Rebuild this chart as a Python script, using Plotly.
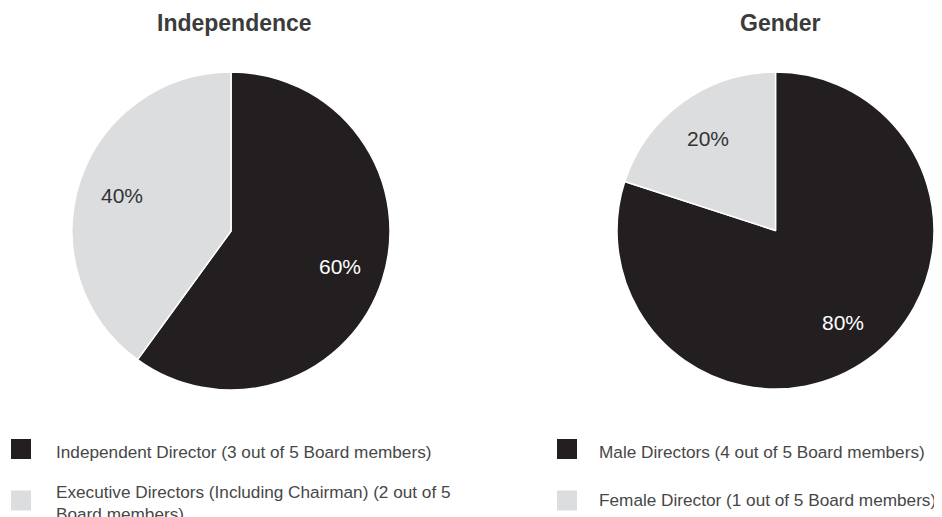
import math
import plotly.graph_objects as go

W, H = 942, 517
OFF = 8  # browser body margin
FW, FH = W - OFF, H - OFF

titles = ["Independence", "Gender"]
indep_labels = ["Independent Director (3 out of 5 Board members)",
                "Executive Directors (Including Chairman) (2 out of 5<br>Board members)"]
indep_values = [3, 2]
gender_labels = ["Male Directors (4 out of 5 Board members)",
                 "Female Director (1 out of 5 Board members)"]
gender_values = [4, 1]

colors = ["#231f20", "#dcdddf"]
text_colors = ["#ffffff", "#333333"]
FONT = "Liberation Sans, Arial, Helvetica, sans-serif"


def px_x(x):
    return (x - OFF) / FW


def px_y(y):
    return 1 - (y - OFF) / FH


fig = go.Figure()
annotations = []
shapes = []

# pie boxes in page pixels: (x0, x1, y0, y1)
pies = [
    (indep_labels, indep_values, (72, 390, 72, 390)),
    (gender_labels, gender_values, (617, 934, 72, 389)),
]
for labels, values, (x0, x1, y0, y1) in pies:
    fig.add_trace(go.Pie(
        labels=labels, values=values, sort=False, direction="clockwise", rotation=0,
        marker=dict(colors=colors, line=dict(color="white", width=1.5)),
        textinfo="none",
        hoverinfo="label+percent",
        domain=dict(x=[px_x(x0), px_x(x1)], y=[px_y(y1), px_y(y0)]),
        showlegend=False,
    ))
    # percent labels placed at each slice's mid-angle
    cx, cy, r = (x0 + x1) / 2, (y0 + y1) / 2, (x1 - x0) / 2
    total = sum(values)
    cum = 0
    for i, v in enumerate(values):
        mid = (cum + v / 2) / total * 2 * math.pi
        cum += v
        lx = cx + 0.72 * r * math.sin(mid)
        ly = cy - 0.72 * r * math.cos(mid)
        annotations.append(dict(text="%d%%" % round(100 * v / total), x=px_x(lx), y=px_y(ly),
                                xref="paper", yref="paper", showarrow=False,
                                xanchor="center", yanchor="middle",
                                font=dict(size=21, color=text_colors[i], family=FONT)))

# titles
for t, cx in zip(titles, [234, 780]):
    annotations.append(dict(text="<b>%s</b>" % t, x=px_x(cx), y=px_y(23), xref="paper", yref="paper",
                            showarrow=False, xanchor="center", yanchor="middle",
                            font=dict(size=23, color="#3b3b3b", family=FONT)))

# custom legends
legend_cols = [(indep_labels, 11, 54, [(449, 452), (500.5, 503)]),
               (gender_labels, 557, 597, [(449, 452), (500.5, 500)])]
for labels, sq_x, tx_x, ys in legend_cols:
    for i, (lab, (sq_c, tx_c)) in enumerate(zip(labels, ys)):
        shapes.append(dict(type="rect", xref="paper", yref="paper",
                           x0=px_x(sq_x), x1=px_x(sq_x + 20), y0=px_y(sq_c + 10), y1=px_y(sq_c - 10),
                           fillcolor=colors[i], line=dict(width=0)))
        annotations.append(dict(text=lab, x=px_x(tx_x), y=px_y(tx_c), xref="paper", yref="paper",
                                showarrow=False, xanchor="left", yanchor="middle", align="left",
                                font=dict(size=17.2, color="#474747", family=FONT)))

fig.update_layout(
    width=FW, height=FH, margin=dict(l=0, r=0, t=0, b=0),
    paper_bgcolor="white", plot_bgcolor="white",
    annotations=annotations, shapes=shapes,
    font=dict(family=FONT),
)

fig.write_html("out.html")
